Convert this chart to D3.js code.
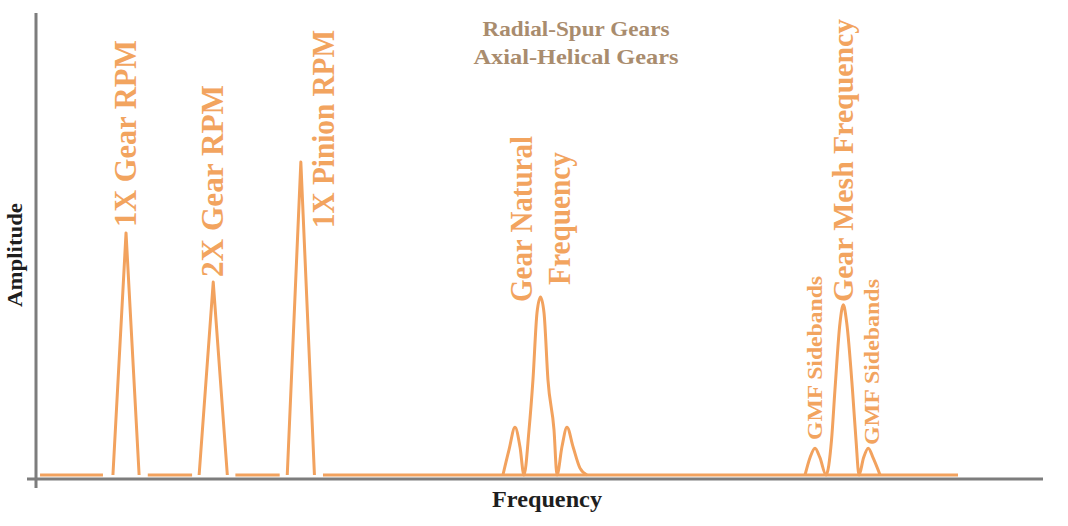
<!DOCTYPE html>
<html><head><meta charset="utf-8">
<script src="https://cdn.jsdelivr.net/npm/d3@7"></script>
<style>html,body{margin:0;padding:0;background:#fff;}svg{display:block;}</style>
</head><body>
<script>
// ---------- DATA (frequency in arbitrary units 0-1000, amplitude 0-100) ----------
const baselineStart = [4, 111, 198, 285];
const baselineEnd   = [66.5, 155, 242, 915.6];

const spikeNames = ["1X Gear RPM", "2X Gear RPM", "1X Pinion RPM"];
const spikeFreq  = [89.4, 176, 263];
const spikeAmp   = [53.2, 42.4, 68.8];
const spikeHalfWidth = [13, 14, 13.5];

// Gear natural frequency with its side bumps
const gnFreq = [463.7, 469.7, 475.7, 480.6, 484.6, 489.6, 493.5, 497.5, 501.0, 504.5, 508.4, 514.4, 517.4, 522.3, 527.3, 533.3, 540.2, 547.2];
const gnAmp  = [0,     5.5,   10.5,  6.2,   0,     9.9,   20.9,  35.6,  39.1,  35.6,  20.9,  9.9,   0,     6.2,   10.5,  6.2,   1.5,   0];

// Gear mesh frequency with GMF sidebands
const gmfFreq = [763.7, 768.6, 773.6, 778.5, 784.5, 790.0, 793.4, 798.4, 801.7, 805.1, 810.8, 814.3, 817.3, 821.8, 826.5, 831.2, 838.2];
const gmfAmp  = [0,     3.8,   5.9,   3.8,   0,     7.7,   18.7,  33.4,  37.4,  33.4,  18.7,  7.7,   0,     3.8,   5.9,   3.8,   0];

const titleLines = ["Radial-Spur Gears", "Axial-Helical Gears"];
const xAxisTitle = "Frequency";
const yAxisTitle = "Amplitude";

// ---------- LAYOUT ----------
const W = 1068, H = 526;
const svg = d3.select("body").append("svg").attr("width", W).attr("height", H);

const x = d3.scaleLinear().domain([0, 1000]).range([36, 1043]);
const y = d3.scaleLinear().domain([0, 100]).range([475, 20]);

const ORANGE = "#f2a25e";
const LABEL = "#f2a45f";
const AXIS = "#7d7d7d";

// axes lines
svg.append("line").attr("x1", 36).attr("x2", 36).attr("y1", 13).attr("y2", 488)
  .attr("stroke", AXIS).attr("stroke-width", 3);
svg.append("line").attr("x1", 27).attr("x2", 1043).attr("y1", 479).attr("y2", 479)
  .attr("stroke", AXIS).attr("stroke-width", 3);

const line = d3.line().x(d => x(d[0])).y(d => y(d[1]));
const g = svg.append("g").attr("fill", "none").attr("stroke", ORANGE)
  .attr("stroke-width", 3).attr("stroke-linejoin", "round").attr("stroke-linecap", "butt");

// baseline segments
baselineStart.forEach((s, i) => {
  g.append("path").attr("d", line([[s, 0], [baselineEnd[i], 0]]));
});
// spikes
spikeFreq.forEach((f, i) => {
  const hw = spikeHalfWidth[i];
  g.append("path").attr("d", line([[f - hw, 0], [f, spikeAmp[i]], [f + hw, 0]]));
});
const smooth = d3.line().x(d => x(d[0])).y(d => y(d[1])).curve(d3.curveMonotoneX);
g.append("path").attr("d", smooth(gnFreq.map((f, i) => [f, gnAmp[i]])));
g.append("path").attr("d", smooth(gmfFreq.map((f, i) => [f, gmfAmp[i]])));

// peak labels (rotated)
const labels = [
  {t: "1X Gear RPM", bx: 136, by: 227, len: 187, fs: 32},
  {t: "2X Gear RPM", bx: 223, by: 277, len: 192, fs: 32},
  {t: "1X Pinion RPM", bx: 334, by: 228, len: 198, fs: 32},
  {t: "Gear Natural", bx: 532, by: 302, len: 166, fs: 32},
  {t: "Frequency", bx: 570, by: 285, len: 133, fs: 32},
  {t: "Gear Mesh Frequency", bx: 853, by: 302, len: 283, fs: 30},
  {t: "GMF Sidebands", bx: 822, by: 440, len: 164, fs: 22},
  {t: "GMF Sidebands", bx: 879, by: 445, len: 166, fs: 22}
];
svg.selectAll("text.lab").data(labels).enter().append("text")
  .attr("class", "lab")
  .attr("transform", d => `translate(${d.bx},${d.by}) rotate(-90)`)
  .attr("font-family", "'Liberation Serif', serif").attr("font-weight", "bold")
  .attr("font-size", d => d.fs).attr("fill", LABEL)
  .attr("textLength", d => d.len).attr("lengthAdjust", "spacingAndGlyphs")
  .text(d => d.t);

// title
svg.selectAll("text.title").data(titleLines).enter().append("text")
  .attr("class", "title")
  .attr("x", 576).attr("y", (d, i) => 36 + i * 28)
  .attr("text-anchor", "middle")
  .attr("font-family", "'Liberation Serif', serif").attr("font-weight", "bold")
  .attr("font-size", 21).attr("fill", "#a98c6e")
  .attr("textLength", (d, i) => i === 0 ? 187 : 205).attr("lengthAdjust", "spacingAndGlyphs")
  .text(d => d);

// axis titles
svg.append("text").attr("x", 547).attr("y", 507).attr("text-anchor", "middle")
  .attr("font-family", "'Liberation Serif', serif").attr("font-weight", "bold")
  .attr("font-size", 23).attr("fill", "#1e1e1e")
  .attr("textLength", 110).attr("lengthAdjust", "spacingAndGlyphs")
  .text(xAxisTitle);
svg.append("text").attr("transform", "translate(22,255) rotate(-90)").attr("text-anchor", "middle")
  .attr("font-family", "'Liberation Serif', serif").attr("font-weight", "bold")
  .attr("font-size", 22).attr("fill", "#1e1e1e")
  .attr("textLength", 104).attr("lengthAdjust", "spacingAndGlyphs")
  .text(yAxisTitle);
</script>
</body></html>
